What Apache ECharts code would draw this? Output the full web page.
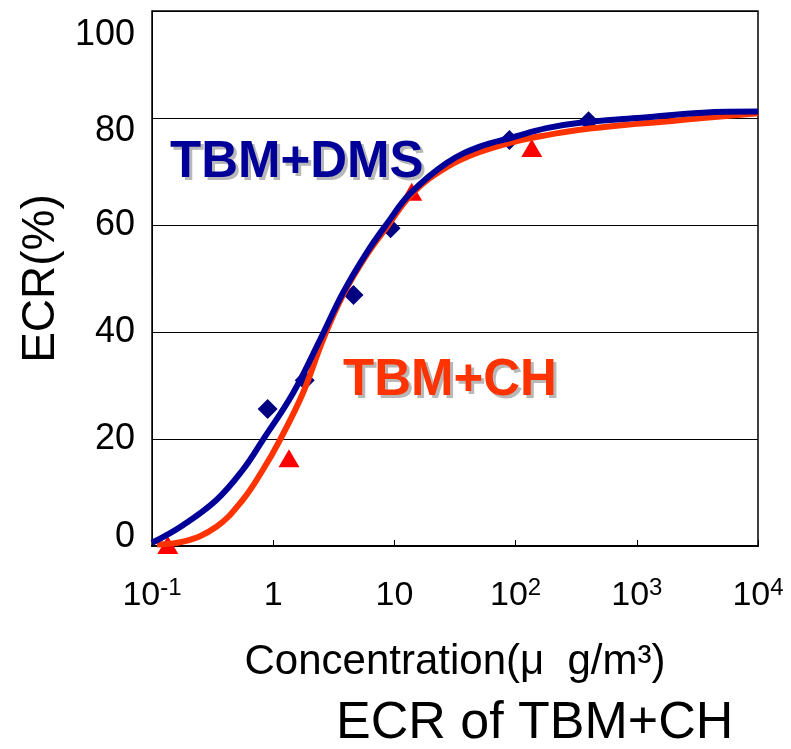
<!DOCTYPE html>
<html>
<head>
<meta charset="utf-8">
<title>ECR of TBM+CH</title>
<script src="https://cdn.jsdelivr.net/npm/echarts@6/dist/echarts.min.js"></script>
<style>
  html, body { margin: 0; padding: 0; background: #fff; }
  #chart { width: 791px; height: 749px; }
</style>
</head>
<body>
<div id="chart"></div>
<script>
// 测定点 (TBM+DMS: 菱形, TBM+CH: 三角形)
const dmsX = [0.9, 1.82, 4.6, 9.3, 89, 400];
const dmsY = [25.6, 31.0, 46.9, 59.4, 75.9, 79.4];
const chX = [0.135, 1.35, 13.9, 136];
const chY = [0.2, 16.4, 66.2, 74.4];

// 拟合曲线
const dmsFitX = [0.1, 0.18, 0.34, 0.56, 0.82, 1.46, 2.43, 3.76, 5.9, 8.65, 13.4, 27, 50, 95, 180, 340, 1000, 3500, 10000];
const dmsFitY = [0.6, 3.9, 8.6, 14.2, 19.8, 28.6, 38.5, 47.3, 54.8, 60.2, 65.8, 71.6, 74.6, 76.4, 78.1, 79.1, 80.0, 81.0, 81.2];
const chFitX = [0.11, 0.18, 0.34, 0.56, 0.82, 1.135, 1.76, 2.57, 3.76, 5.9, 8.65, 14.2, 27, 50, 95, 180, 340, 1000, 1860, 3500, 10000];
const chFitY = [0.3, 0.8, 3.6, 8.6, 14.2, 19.8, 28.6, 38.5, 46.9, 54.4, 59.6, 66.0, 70.8, 73.6, 75.5, 76.8, 77.8, 78.9, 79.4, 80.0, 80.9];

// 坐标轴刻度标签
const xTickBase = ['10', '1', '10', '10', '10', '10'];
const xTickExp = ['-1', '', '', '2', '3', '4'];
const yTicks = [0, 20, 40, 60, 80, 100];

const zip = (xs, ys) => xs.map((x, i) => [x, ys[i]]);

const chart = echarts.init(document.getElementById('chart'));

const font = 'Liberation Sans';

// 带灰色阴影的标注文字
const shadowText = (text, left, top, color) => [
  {
    type: 'text', left: left + 3, top: top + 3, z: 10,
    style: { text: text, font: 'bold 51px "Liberation Sans"', fill: '#b8b8b8' }
  },
  {
    type: 'text', left: left, top: top, z: 11,
    style: { text: text, font: 'bold 51px "Liberation Sans"', fill: color }
  }
];

// y 轴标签在原图里略有错位
const yLabelStyle = { fontSize: 36, color: '#000', fontFamily: font };

const option = {
  animation: false,
  textStyle: { fontFamily: font },
  title: {
    text: 'ECR of TBM+CH',
    left: 331,
    top: 693,
    textStyle: { fontSize: 52, fontWeight: 'normal', color: '#000', fontFamily: font }
  },
  grid: {
    left: 152,
    right: 33,
    top: 11,
    bottom: 203,
    outerBoundsMode: 'none',
    show: true,
    borderColor: '#000',
    borderWidth: 1.5
  },
  xAxis: {
    type: 'log',
    logBase: 10,
    min: 0.1,
    max: 10000,
    name: 'Concentration(μ  g/m³)',
    nameLocation: 'middle',
    nameGap: 95,
    nameTextStyle: { fontSize: 42, color: '#000', fontFamily: font },
    axisLine: { lineStyle: { color: '#000', width: 2 } },
    axisTick: { inside: true, length: 6, lineStyle: { color: '#000', width: 1 } },
    splitLine: { show: false },
    minorTick: { show: false },
    axisLabel: {
      margin: 30,
      formatter: (v) => {
        const i = Math.round(Math.log10(v)) + 1;
        return xTickExp[i] ? '{b|' + xTickBase[i] + '}{s|' + xTickExp[i] + '}' : '{b|' + xTickBase[i] + '}';
      },
      rich: {
        b: { fontSize: 34, color: '#000', lineHeight: 40, fontFamily: font },
        s: { fontSize: 24, color: '#000', lineHeight: 28, verticalAlign: 'top', fontFamily: font }
      }
    }
  },
  yAxis: {
    type: 'value',
    min: yTicks[0],
    max: yTicks[yTicks.length - 1],
    interval: 20,
    name: 'ECR(%)',
    nameLocation: 'middle',
    nameGap: 86,
    nameTextStyle: { fontSize: 46, color: '#000', fontFamily: font },
    axisLine: { show: true, lineStyle: { color: '#000', width: 1 } },
    axisTick: { show: false },
    axisLabel: {
      margin: 17,
      formatter: (v) => {
        if (v === 100) return '{top|' + v + '}';
        if (v === 80) return '{hi|' + v + '}';
        if (v === 0) return '{low|' + v + '}';
        return '{n|' + v + '}';
      },
      rich: {
        n: yLabelStyle,
        top: Object.assign({ padding: [48, 0, 0, 0] }, yLabelStyle),
        hi: Object.assign({ padding: [26, 0, 0, 0] }, yLabelStyle),
        low: Object.assign({ padding: [0, 0, 18, 0] }, yLabelStyle)
      }
    },
    splitLine: { lineStyle: { color: '#000', width: 1 } }
  },
  graphic: [
    ...shadowText('TBM+DMS', 170, 137, '#000099'),
    ...shadowText('TBM+CH', 343, 355, '#ff3300')
  ],
  series: [
    {
      name: 'TBM+DMS',
      type: 'scatter',
      symbol: 'diamond',
      symbolSize: 20,
      itemStyle: { color: '#000080', opacity: 1 },
      data: zip(dmsX, dmsY)
    },
    {
      name: 'TBM+CH',
      type: 'scatter',
      symbol: 'triangle',
      symbolSize: [21, 18],
      itemStyle: { color: '#ff0000', opacity: 1 },
      data: zip(chX, chY)
    },
    {
      name: 'TBM+CH fit',
      type: 'line',
      smooth: 0.4,
      showSymbol: false,
      lineStyle: { color: '#ff3300', width: 6 },
      data: zip(chFitX, chFitY)
    },
    {
      name: 'TBM+DMS fit',
      type: 'line',
      smooth: 0.4,
      showSymbol: false,
      lineStyle: { color: '#000099', width: 6 },
      data: zip(dmsFitX, dmsFitY)
    }
  ]
};

chart.setOption(option);
</script>
</body>
</html>
